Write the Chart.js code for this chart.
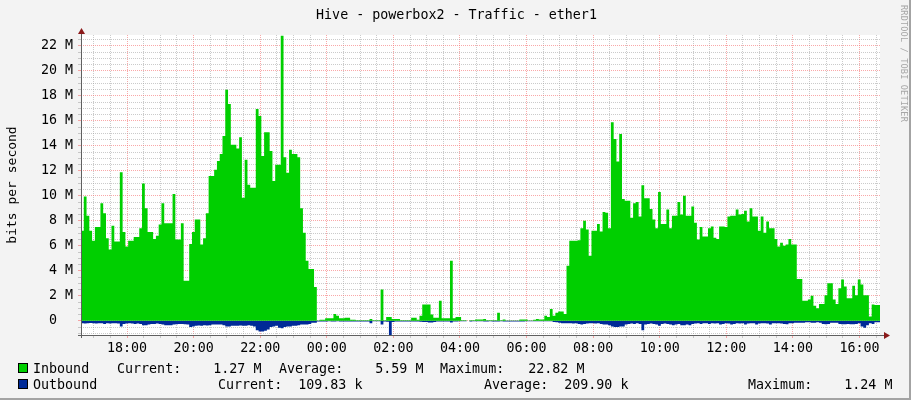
<!DOCTYPE html>
<html lang="en">

<head>
    <meta charset="UTF-8">
    <title>Hive - powerbox2 - Traffic - ether1</title>
    <style>
        body { margin: 0; background: #fff; }
        #wrap { position: relative; width: 911px; height: 400px; background: #f3f3f3; overflow: hidden;
                font-family: "DejaVu Sans Mono", monospace; }
        #wrap canvas { position: absolute; left: 0; top: 0; }
        .txt { position: absolute; font-size: 13.33px; line-height: 15px; white-space: pre; color: #000; }
        .box { position: absolute; width: 8px; height: 8px; border: 1px solid #000; }
        #mark { position: absolute; left: 899px; top: 5px; font-size: 8.5px; color: #a6a6a6;
                writing-mode: vertical-rl; letter-spacing: 0.2px; }
        #frame { position: absolute; left: 0; top: 0; width: 911px; height: 400px; box-sizing: border-box;
                 border-right: 2px solid #a3a3a3; border-bottom: 2px solid #a3a3a3; pointer-events: none; }
    </style>
</head>

<body>
    <div id="wrap">
        <canvas id="Chart" width="911" height="400"></canvas>
        <div class="txt" id="title" style="left:1px; width:911px; text-align:center; top:7px;"></div>
        <div id="mark">RRDTOOL / TOBI OETIKER</div>
        <div id="legend"></div>
        <div id="frame"></div>
    </div>

    <script src="https://cdn.jsdelivr.net/npm/chart.js"></script>

    <script>
        // 5 minute samples, graph starts 16:37, values in Mbit/s
        const stepMinutes = 5;
        const firstLabelMinute = 83; // 18:00 is 83 min after the start

        const inbound = [
            9.2, 7.2, 9.95, 8.4, 7.2, 6.4, 7.5, 7.5, 9.4, 8.6,
            6.6, 5.7, 7.6, 6.35, 6.35, 11.9, 7.1, 5.95, 6.4, 6.4,
            6.7, 6.7, 7.4, 11.0, 9.0, 7.1, 7.1, 6.55, 6.8, 7.7,
            9.4, 7.8, 7.8, 7.8, 10.15, 6.5, 6.5, 7.8, 3.2, 3.2,
            6.15, 7.1, 8.1, 8.1, 6.1, 6.6, 8.6, 11.6,
            11.6, 12.1, 12.8, 13.35, 14.8, 18.5, 17.35, 14.1, 14.1, 13.8,
            14.7, 9.85, 12.9, 10.9, 10.65, 10.65, 16.95, 16.4, 13.2, 15.1,
            15.1, 13.6, 11.2, 12.5, 12.5, 22.82, 13.1, 11.85, 13.7, 13.35,
            13.35, 13.1, 9.0, 7.05, 4.8, 4.15, 4.15, 2.7, 0.02, 0.08,
            0.08, 0.2, 0.2, 0.2, 0.55, 0.4, 0.2, 0.2, 0.25,
            0.25, 0.08, 0.08, 0.05, 0.05, 0.05, 0.05, 0.05, 0.15, 0.05,
            0.05, 0.05, 2.5, 0.05, 0.3, 0.3, 0.15, 0.15, 0.15, 0.05,
            0.05, 0.05, 0.05, 0.25, 0.25, 0.08, 0.4, 1.3, 1.3, 1.3,
            0.5, 0.25, 0.25, 1.6, 0.2, 0.2, 0.2, 4.8, 0.2, 0.3,
            0.3, 0.05, 0.05, 0, 0.05, 0.05, 0.1, 0.1, 0.1,
            0.15, 0.05, 0.05, 0.05, 0.05, 0.65, 0.05, 0.1, 0.03, 0.03,
            0.03, 0.03, 0.03, 0.1, 0.1, 0.1, 0.03, 0.03, 0.08, 0.15,
            0.1, 0.1, 0.4, 0.3, 0.95, 0.4, 0.65, 0.75, 0.75, 0.55,
            4.4, 6.4, 6.4, 6.4, 6.45, 7.4, 8.0, 7.3, 5.2, 7.2,
            7.2, 7.75, 7.15, 8.7, 8.65, 7.4, 15.9, 14.55, 12.75, 14.95,
            9.75, 9.6, 9.6, 8.25, 9.4, 9.5, 8.35, 10.85, 9.8, 9.8,
            8.95, 8.1, 7.4, 10.3, 7.75, 7.75, 8.9, 7.4, 8.4, 8.4,
            9.5, 8.5, 10.0, 8.4, 8.4, 9.15, 7.85, 6.5, 7.5, 6.75,
            6.75, 7.4, 7.55, 6.65,
            6.55, 7.55, 7.55, 7.5, 8.35, 8.4, 8.4, 8.9, 8.5, 8.55,
            8.8, 7.95, 9.0, 8.35, 8.35, 7.2, 8.35, 7.05, 7.95, 7.4,
            7.4, 6.55, 5.95, 6.25, 6.0, 6.1, 6.55, 6.1, 6.1, 3.35,
            3.35, 1.6, 1.6, 1.7, 2.0, 1.2, 1.0, 1.35, 1.35, 2.05,
            3.0, 3.0, 1.7, 1.35, 2.6, 3.3, 2.75, 1.8, 1.8, 2.8,
            2.05, 3.3, 2.9, 2.05, 2.05, 0.35, 1.3, 1.27
        ];

        // drawn below zero
        const outbound = [
            0.45, 0.2, 0.22, 0.2, 0.18, 0.2, 0.22, 0.2, 0.2, 0.25,
            0.2, 0.22, 0.2, 0.2, 0.22, 0.45, 0.25, 0.22, 0.2, 0.22,
            0.25, 0.22, 0.25, 0.35, 0.35, 0.3, 0.25, 0.25, 0.22, 0.25,
            0.3, 0.35, 0.35, 0.35, 0.3, 0.28, 0.25, 0.25, 0.28, 0.3,
            0.5, 0.45, 0.4, 0.38, 0.4, 0.35, 0.38, 0.35,
            0.3, 0.3, 0.3, 0.3, 0.35, 0.45, 0.45, 0.4, 0.4, 0.4,
            0.38, 0.4, 0.4, 0.35, 0.4, 0.45, 0.75, 0.85, 0.85, 0.8,
            0.7, 0.5, 0.45, 0.4, 0.55, 0.6, 0.5, 0.45, 0.45, 0.4,
            0.4, 0.35, 0.3, 0.3, 0.3, 0.25, 0.15, 0.15, 0.05, 0.05,
            0.05, 0.05, 0.03, 0.05, 0.05, 0.03, 0.05, 0.05, 0.05,
            0.05, 0.05, 0.05, 0.05, 0.05, 0.05, 0.05, 0.05, 0.2, 0.03,
            0.03, 0.03, 0.3, 0.05, 0.08, 1.24, 0.1, 0.05, 0.05, 0.05,
            0.05, 0.05, 0.05, 0.05, 0.05, 0.05, 0.08, 0.1, 0.1, 0.13,
            0.13, 0.1, 0.05, 0.05, 0.05, 0.05, 0.05, 0.13, 0.05, 0.05,
            0.03, 0.03, 0.03, 0, 0.05, 0.03, 0.03, 0.03, 0.03,
            0.05, 0.05, 0.03, 0.05, 0.05, 0.05, 0.03, 0.05, 0.05, 0.05,
            0.05, 0.05, 0.05, 0.05, 0.05, 0.03, 0.03, 0.03, 0.03, 0.03,
            0.03, 0.03, 0.03, 0.03, 0.03, 0.1, 0.12, 0.15, 0.2, 0.2,
            0.2, 0.2, 0.22, 0.2, 0.25, 0.3, 0.25, 0.22, 0.2, 0.2,
            0.22, 0.2, 0.25, 0.3, 0.3, 0.35, 0.45, 0.5, 0.5, 0.45,
            0.45, 0.3, 0.25, 0.22, 0.25, 0.2, 0.25, 0.75, 0.3, 0.25,
            0.22, 0.25, 0.3, 0.4, 0.25, 0.22, 0.25, 0.3, 0.35, 0.3,
            0.25, 0.35, 0.35, 0.3, 0.35, 0.25, 0.22, 0.2, 0.25, 0.2,
            0.2, 0.25, 0.2, 0.22,
            0.2, 0.3, 0.25, 0.2, 0.22, 0.3, 0.25, 0.2, 0.22, 0.2,
            0.3, 0.22, 0.2, 0.2, 0.3, 0.22, 0.2, 0.2, 0.22, 0.3,
            0.2, 0.2, 0.2, 0.22, 0.25, 0.28, 0.2, 0.2, 0.15, 0.15,
            0.15, 0.15, 0.12, 0.12, 0.15, 0.15, 0.12, 0.15, 0.25, 0.28,
            0.25, 0.15, 0.15, 0.15, 0.25, 0.28, 0.28, 0.25, 0.28, 0.28,
            0.25, 0.2, 0.45, 0.55, 0.35, 0.2, 0.25, 0.11
        ];

        const xLabels = ['18:00', '20:00', '22:00', '00:00', '02:00', '04:00',
            '06:00', '08:00', '10:00', '12:00', '14:00', '16:00'];
        const yMajor = [0, 2, 4, 6, 8, 10, 12, 14, 16, 18, 20, 22];
        const yLabels = ['0\u2007\u2007', '2 M', '4 M', '6 M', '8 M', '10 M', '12 M', '14 M', '16 M', '18 M', '20 M', '22 M'];

        const titleText = 'Hive - powerbox2 - Traffic - ether1';
        const inStats = ['Current:    1.27 M', 'Average:    5.59 M', 'Maximum:   22.82 M'];
        const outStats = ['Current:  109.83 k', 'Average:  209.90 k', 'Maximum:    1.24 M'];

        const inColor = '#00CF00';
        const outColor = '#002A97';
        const majorGrid = 'rgba(245,110,110,0.6)';
        const minorGrid = 'rgba(160,160,160,0.55)';

        // title + legend as text
        document.getElementById('title').textContent = titleText;
        const legend = document.getElementById('legend');
        function addText(str, left, top) {
            const d = document.createElement('div');
            d.className = 'txt';
            d.style.left = left + 'px';
            d.style.top = top + 'px';
            d.textContent = str;
            legend.appendChild(d);
        }
        function addBox(color, top) {
            const b = document.createElement('div');
            b.className = 'box';
            b.style.left = '18px';
            b.style.top = top + 'px';
            b.style.background = color;
            legend.appendChild(b);
        }
        addBox(inColor, 363);
        addText('Inbound', 33, 361);
        [117, 279, 440].forEach((x, i) => addText(inStats[i], x, 361));
        addBox(outColor, 379);
        addText('Outbound', 33, 377);
        [218, 484, 748].forEach((x, i) => addText(outStats[i], x, 377));

        // points for the stepped areas
        const inPts = inbound.map((v, i) => ({ x: i * stepMinutes, y: v }));
        inPts.push({ x: inbound.length * stepMinutes, y: inbound[inbound.length - 1] });
        const outPts = outbound.map((v, i) => ({ x: i * stepMinutes, y: -v }));
        outPts.push({ x: outbound.length * stepMinutes, y: -outbound[outbound.length - 1] });

        const isMajorX = v => (v - firstLabelMinute) % 120 === 0;

        // white plot area + rrdtool style axes with arrows
        const rrdFrame = {
            id: 'rrdFrame',
            beforeDraw(chart) {
                const a = chart.chartArea;
                chart.ctx.save();
                chart.ctx.fillStyle = '#ffffff';
                chart.ctx.fillRect(a.left, a.top, a.right - a.left, a.bottom - a.top);
                chart.ctx.restore();
            },
            afterDraw(chart) {
                const ctx = chart.ctx, a = chart.chartArea;
                ctx.save();
                ctx.strokeStyle = '#606060';
                ctx.lineWidth = 1;
                ctx.beginPath();
                ctx.moveTo(a.left + 0.5, a.bottom + 3);
                ctx.lineTo(a.left + 0.5, a.top - 3);
                ctx.moveTo(a.left - 3, a.bottom + 0.5);
                ctx.lineTo(a.right + 4, a.bottom + 0.5);
                ctx.stroke();
                ctx.fillStyle = '#8b1a1a';
                ctx.beginPath();
                ctx.moveTo(a.left + 0.5, a.top - 7);
                ctx.lineTo(a.left - 3, a.top - 1);
                ctx.lineTo(a.left + 4, a.top - 1);
                ctx.closePath();
                ctx.fill();
                ctx.beginPath();
                ctx.moveTo(a.right + 10, a.bottom + 0.5);
                ctx.lineTo(a.right + 4, a.bottom - 3);
                ctx.lineTo(a.right + 4, a.bottom + 4);
                ctx.closePath();
                ctx.fill();
                ctx.restore();
            }
        };

        Chart.defaults.font.family = '"DejaVu Sans Mono", monospace';
        Chart.defaults.font.size = 13.33;
        Chart.defaults.color = '#000';

        new Chart(document.getElementById('Chart').getContext('2d'), {
            type: 'line',
            data: {
                datasets: [{
                    label: 'Inbound',
                    data: inPts,
                    stepped: 'after',
                    fill: 'origin',
                    backgroundColor: inColor,
                    borderColor: inColor,
                    borderWidth: 0,
                    pointRadius: 0
                }, {
                    label: 'Outbound',
                    data: outPts,
                    stepped: 'after',
                    fill: 'origin',
                    backgroundColor: outColor,
                    borderColor: outColor,
                    borderWidth: 0,
                    pointRadius: 0
                }]
            },
            options: {
                responsive: false,
                animation: false,
                devicePixelRatio: 1,
                layout: { padding: { left: 0, right: 31, top: 35, bottom: 0 } },
                plugins: { legend: { display: false }, tooltip: { enabled: false } },
                scales: {
                    x: {
                        type: 'linear',
                        min: 0,
                        max: 1440,
                        afterBuildTicks(scale) {
                            const t = [];
                            for (let m = firstLabelMinute - 60; m < 1440; m += 30) t.push({ value: m });
                            scale.ticks = t;
                        },
                        afterFit(scale) { scale.height = 65; },
                        ticks: {
                            autoSkip: false,
                            maxRotation: 0,
                            padding: 3,
                            callback: v => isMajorX(v) ? xLabels[(v - firstLabelMinute) / 120] : ''
                        },
                        grid: {
                            color: c => isMajorX(c.tick.value) ? majorGrid : minorGrid,
                            tickColor: c => isMajorX(c.tick.value) ? majorGrid : minorGrid,
                            tickLength: 3
                        },
                        border: { display: false, dash: [1, 1] }
                    },
                    y: {
                        min: -1.14,
                        max: 22.88,
                        afterBuildTicks(scale) {
                            const t = [];
                            for (let v = -1; v <= 22.5; v += 0.5) t.push({ value: v });
                            scale.ticks = t;
                        },
                        afterFit(scale) { scale.width = 81; },
                        ticks: {
                            autoSkip: false,
                            padding: 5,
                            callback: v => {
                                const i = yMajor.indexOf(v);
                                return i >= 0 ? yLabels[i] : '';
                            }
                        },
                        grid: {
                            color: c => yMajor.includes(c.tick.value) ? majorGrid : minorGrid,
                            tickColor: c => yMajor.includes(c.tick.value) ? majorGrid : minorGrid,
                            tickLength: 3
                        },
                        border: { display: false, dash: [1, 1] },
                        title: {
                            display: true,
                            text: 'bits per second',
                            font: { size: 13 },
                            padding: { top: 5, bottom: 0 }
                        }
                    }
                }
            },
            plugins: [rrdFrame]
        });
    </script>
</body>

</html>
